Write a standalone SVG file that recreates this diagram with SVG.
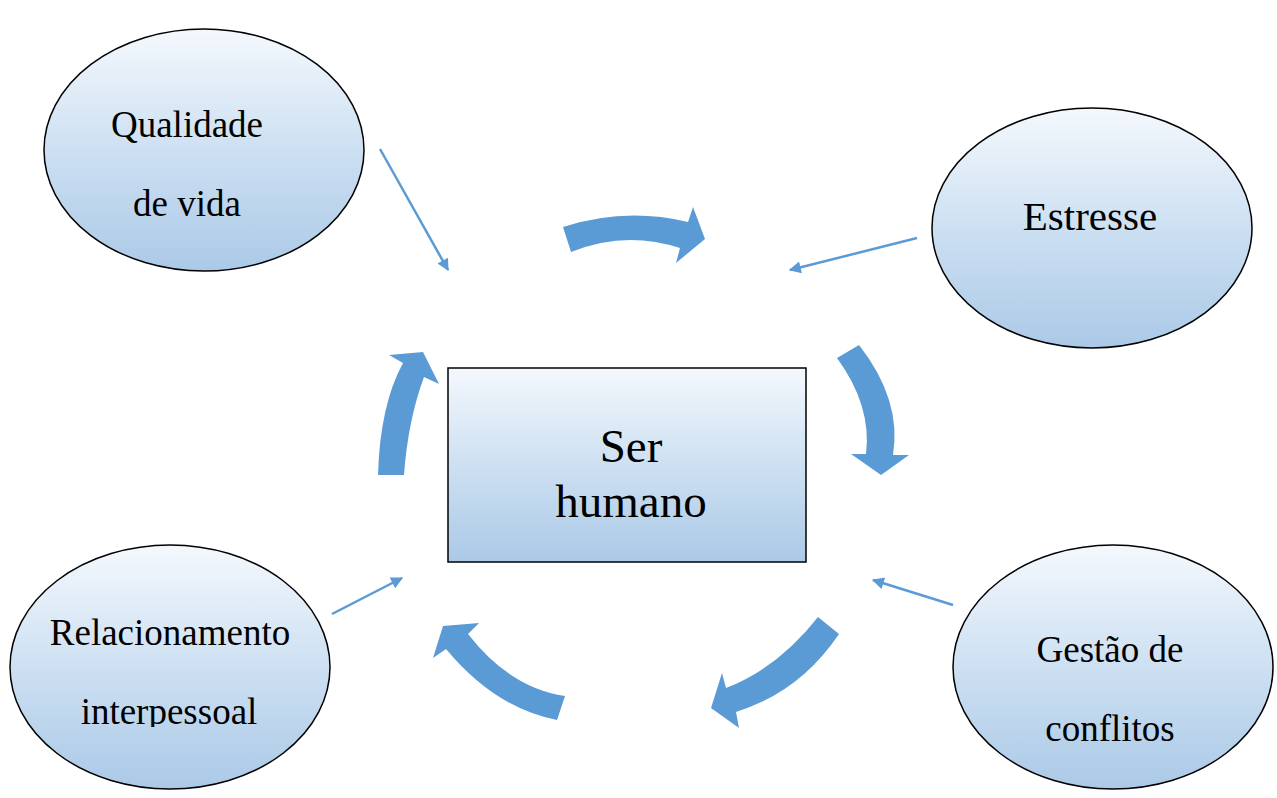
<svg xmlns="http://www.w3.org/2000/svg" width="1277" height="798" viewBox="0 0 1277 798">
<defs>
<linearGradient id="g" x1="0" y1="0" x2="0" y2="1">
<stop offset="0" stop-color="#f4f8fd"/>
<stop offset="0.5" stop-color="#cde0f2"/>
<stop offset="1" stop-color="#abc9e7"/>
</linearGradient>
<marker id="ah" viewBox="0 0 10 10" refX="9" refY="5" markerWidth="16" markerHeight="12" markerUnits="userSpaceOnUse" orient="auto">
<path d="M0,0 L10,5 L0,10 Z" fill="#5b9bd5"/>
</marker>
<clipPath id="clipRel"><rect x="0" y="540" width="340" height="187"/></clipPath>
</defs>
<style>
.node{fill:url(#g);stroke:#000;stroke-width:1.5}
.t{font-family:"Liberation Serif","Times New Roman",serif;fill:#000;text-anchor:middle}
.thin{stroke:#5b9bd5;stroke-width:2.5;fill:none;marker-end:url(#ah)}
.block{fill:#5b9bd5;stroke:none}
</style>
<rect width="1277" height="798" fill="#fff"/>
<g id="qualidade">
<ellipse class="node" cx="204" cy="150" rx="160" ry="121"/>
<text class="t" x="187" y="137" font-size="37">Qualidade</text>
<text class="t" x="187" y="216" font-size="37">de vida</text>
</g>
<g id="estresse">
<ellipse class="node" cx="1092" cy="228" rx="160" ry="120"/>
<text class="t" x="1090" y="230" font-size="41">Estresse</text>
</g>
<g id="relacionamento">
<ellipse class="node" cx="170" cy="667" rx="160" ry="122"/>
<text class="t" x="170" y="645" font-size="37">Relacionamento</text>
<text class="t" x="169" y="724" font-size="37" clip-path="url(#clipRel)">interpessoal</text>
</g>
<g id="gestao">
<ellipse class="node" cx="1113" cy="667" rx="160" ry="122"/>
<text class="t" x="1110" y="662" font-size="37">Gestão de</text>
<text class="t" x="1110" y="741" font-size="37">conflitos</text>
</g>
<g id="ser-humano">
<rect class="node" x="448" y="368" width="358" height="194"/>
<text class="t" x="631" y="462" font-size="47">Ser</text>
<text class="t" x="631" y="517" font-size="47">humano</text>
</g>
<g id="connectors">
<path class="block" d="M563,227 Q625,207 688,222 L693,207 L705,239 L676,263 L680,248 Q625,230 571,252 Z"/>
<path class="block" d="M859,345 Q902,400 893,455 L909,455 L881,475 L851,454 L866,454 Q872,406 837,358 Z"/>
<path class="block" d="M839,634 Q800,692 736,712 L739,728 L711,708 L722,673 L726,688 Q778,668 818,617 Z"/>
<path class="block" d="M557,720 Q495,708 446,649 L433,658 L443,626 L479,623 L468,634 Q510,688 565,696 Z"/>
<path class="block" d="M378,475 Q380,405 403,363 L389,355 L423,352 L439,384 L424,377 Q408,420 404,475 Z"/>
<line class="thin" x1="380" y1="149" x2="448" y2="270"/>
<line class="thin" x1="917" y1="238" x2="790" y2="270"/>
<line class="thin" x1="332" y1="614" x2="402" y2="578"/>
<line class="thin" x1="953" y1="605" x2="873" y2="580"/>
</g>
</svg>
